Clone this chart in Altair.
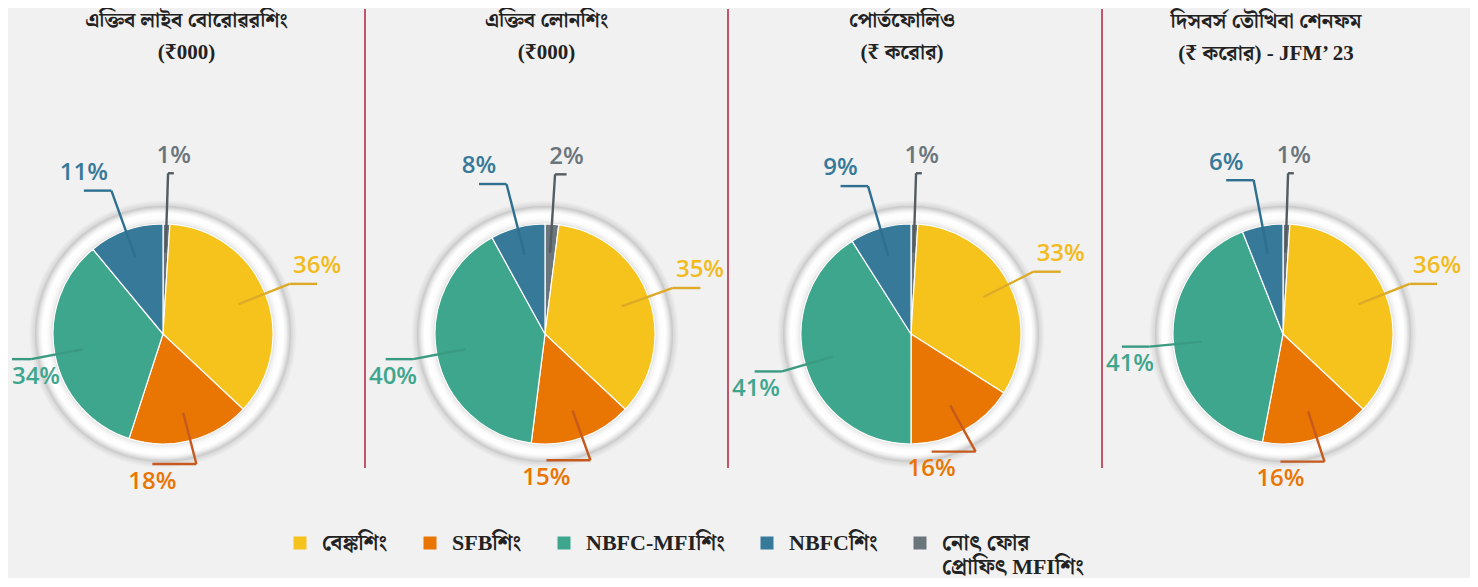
import math
import altair as alt
import pandas as pd

# ---------------- data ----------------
categories = ["বেঙ্কশিং", "SFBশিং", "NBFC-MFIশিং", "NBFCশিং", "নোৎ ফোর প্রোফিৎ MFIশিং"]
legend_wrap = ["নোৎ ফোর", "প্রোফিৎ MFIশিং"]

panel_titles = [
    ["এক্তিব লাইব বোরোৱরশিং", "(₹000)"],
    ["এক্তিব লোনশিং", "(₹000)"],
    ["পোর্তফোলিও", "(₹ করোর)"],
    ["দিসবর্স তৌখিবা শেনফম", "(₹ করোর) - JFM’ 23"],
]

active_borrowers = [36, 18, 34, 11, 1]
active_loans = [35, 15, 40, 8, 2]
portfolio = [33, 16, 41, 9, 1]
disbursements = [36, 16, 41, 6, 1]
series = [active_borrowers, active_loans, portfolio, disbursements]

# ---------------- styles / layout ----------------
slice_colors = ["#F6C21C", "#E97502", "#3FA68E", "#377998", "#6B757C"]
label_colors = ["#F2BB1E", "#E97502", "#3FA68E", "#377998", "#6B757C"]
leader_colors = ["#DDAA28", "#C65A1E", "#3A9A82", "#2F7090", "#525C62"]

clockwise = [4, 0, 1, 2, 3]   # slice order from 12 o'clock, clockwise

R = 110
panel_w = [357, 363, 374, 368]
pie_cx = [155, 180, 183, 181]
title_dx = [0, 0, -13, -20]
VIEW_H = 505
PIE_CY = 263
TOP = 62

TITLE_FONT = "'Liberation Serif', 'Noto Serif Bengali', 'Noto Sans Bengali', serif"
LABEL_FONT = "Open Sans"

ring_grad = {
    "gradient": "radial", "x1": 0.5, "y1": 0.5, "r1": 0, "x2": 0.5, "y2": 0.5, "r2": 0.5,
    "stops": [
        {"offset": 0.859, "color": "#d9d9d9"},
        {"offset": 0.875, "color": "#efefef"},
        {"offset": 0.905, "color": "#fdfdfd"},
        {"offset": 0.94, "color": "#ffffff"},
        {"offset": 0.965, "color": "#eeeeee"},
        {"offset": 0.985, "color": "#d6d6d6"},
        {"offset": 1.0, "color": "#c6c6c6"},
    ],
}
shadow_grad = {
    "gradient": "radial", "x1": 0.5, "y1": 0.5, "r1": 0, "x2": 0.5, "y2": 0.5, "r2": 0.5,
    "stops": [
        {"offset": 0.95, "color": "rgba(0,0,0,0.12)"},
        {"offset": 1.0, "color": "rgba(0,0,0,0)"},
    ],
}

fill_scale = alt.Scale(domain=categories, range=slice_colors)
stroke_scale = alt.Scale(domain=categories, range=leader_colors)
label_scale = alt.Scale(domain=categories, range=label_colors)

label_expr = (
    f"datum.label == '{categories[4]}' ? ['{legend_wrap[0]}', '{legend_wrap[1]}'] : [datum.label, '']"
)

legend = alt.Legend(
    orient="none", legendX=281, legendY=461, direction="horizontal", title=None,
    symbolType="square", symbolSize=169, symbolStrokeWidth=0, symbolOpacity=1,
    labelFont=TITLE_FONT, labelFontSize=22, labelFontWeight="bold", labelColor="#222222",
    labelOffset=11, columnPadding=31, labelLimit=400, labelExpr=label_expr, padding=0,
)


def clamp(v, lo, hi):
    return min(max(v, lo), hi)


def panel_frame(values, cx, w):
    total = sum(values)
    rows = []
    a = 0.0
    for i in clockwise:
        span = values[i] / total * 2 * math.pi
        m = a + span / 2
        s, c = math.sin(m), math.cos(m)
        rb = 1.22 + (0.25 * (1 - abs(s)) if c > 0 else 0.0)
        bx, by = rb * s, rb * c
        if c < 0 and abs(s) < 0.5:
            elbow = -0.4 * math.copysign(1.0, s)      # bottom labels turn inward
        else:
            elbow = 0.25 * math.copysign(min(1.0, abs(s) / 0.15), s)
        ex = clamp(bx + elbow, (-cx + 4) / R, (w - cx - 4) / R)
        ey = by
        side = 1 if c >= 0 else -1
        lx = clamp(ex, (-cx + 28) / R, (w - cx - 28) / R)
        ly = ey + side * 0.16
        rows.append(dict(cat=categories[i], pct=f"{values[i]}%", t0=a, t1=a + span,
                         ax=0.74 * s, ay=0.74 * c, bx=bx, by=by, ex=ex, ey=ey,
                         lx=lx, ly=ly, ox=0.0, oy=0.0))
        a += span
    return pd.DataFrame(rows)


panels = []
for k, values in enumerate(series):
    w, cx = panel_w[k], pie_cx[k]
    df = panel_frame(values, cx, w)
    center = pd.DataFrame({"ox": [0.0], "oy": [0.0]})
    xs = alt.Scale(domain=[-cx / R, (w - cx) / R], nice=False, zero=False)
    ys = alt.Scale(domain=[-(VIEW_H - PIE_CY) / R, PIE_CY / R], nice=False, zero=False)
    X = lambda f: alt.X(f"{f}:Q", scale=xs, axis=None)
    Y = lambda f: alt.Y(f"{f}:Q", scale=ys, axis=None)

    shadow = alt.Chart(center).mark_arc(
        theta=0, theta2=2 * math.pi, radius=134, radius2=127, fill=shadow_grad
    ).encode(x=X("ox"), y=Y("oy"))
    ring = alt.Chart(center).mark_arc(
        theta=0, theta2=2 * math.pi, radius=128, radius2=109, fill=ring_grad
    ).encode(x=X("ox"), y=Y("oy"))
    pie = alt.Chart(df).mark_arc(radius=R, stroke="white", strokeWidth=1.2).encode(
        x=X("ox"), y=Y("oy"),
        theta=alt.Theta("t0:Q", scale=None), theta2=alt.Theta2("t1:Q"),
        fill=alt.Fill("cat:N", scale=fill_scale, legend=legend),
    )
    seg1 = alt.Chart(df).mark_rule(strokeWidth=2.4).encode(
        x=X("ax"), y=Y("ay"), x2=alt.X2("bx:Q"), y2=alt.Y2("by:Q"),
        stroke=alt.Stroke("cat:N", scale=stroke_scale, legend=None),
    )
    seg2 = alt.Chart(df).mark_rule(strokeWidth=2.4).encode(
        x=X("bx"), y=Y("by"), x2=alt.X2("ex:Q"), y2=alt.Y2("ey:Q"),
        stroke=alt.Stroke("cat:N", scale=stroke_scale, legend=None),
    )
    labels = alt.Chart(df).mark_text(
        font=LABEL_FONT, fontSize=24, fontWeight=600, baseline="middle", align="center"
    ).encode(
        x=X("lx"), y=Y("ly"), text="pct:N",
        color=alt.Color("cat:N", scale=label_scale, legend=None),
    )
    sep = alt.Chart(center).mark_rule(
        color="#b3203c", strokeWidth=1.5, strokeOpacity=1 if k < 3 else 0
    ).encode(x=alt.value(w), y=alt.value(-TOP), y2=alt.value(397))
    layers = [shadow, ring, pie, seg1, seg2, labels, sep]
    panel = alt.layer(*layers).properties(
        width=w, height=VIEW_H,
        title=alt.Title(
            text=panel_titles[k], font=TITLE_FONT, fontSize=21, fontWeight="bold",
            color="#222222", lineHeight=32, anchor="middle", offset=6,
            dx=title_dx[k], dy=TOP - 1,
        ),
    )
    panels.append(panel)

chart = alt.hconcat(*panels, spacing=0).properties(
    padding=0, background="#f1f1f1", bounds="flush"
).configure_view(stroke=None)

chart.save("out.html", embed_options={"renderer": "svg", "actions": False})
